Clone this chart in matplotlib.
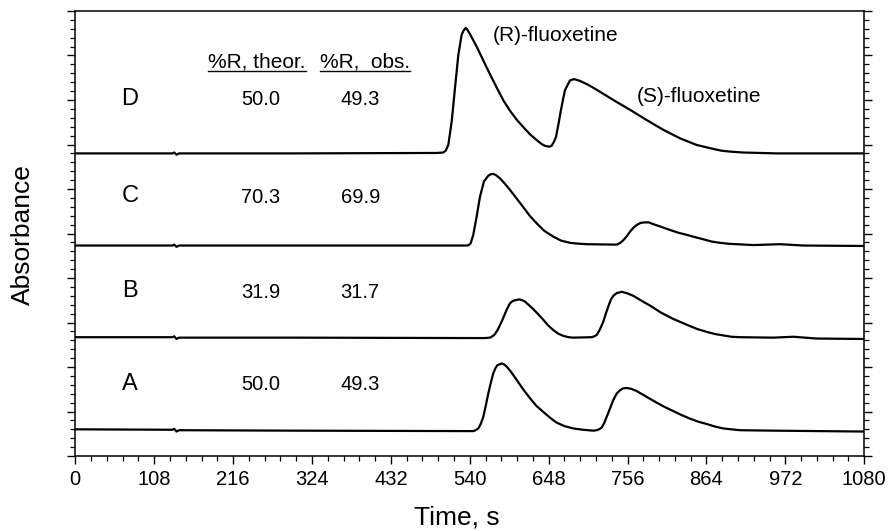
import matplotlib
matplotlib.use("Agg")
import matplotlib.pyplot as plt
from matplotlib.lines import Line2D
from matplotlib.ticker import MultipleLocator, NullFormatter

plt.rcParams["font.family"] = ["Liberation Sans", "DejaVu Sans"]

# ── Data ────────────────────────────────────────────────────────────────
time_a = [0, 133, 135.5, 138.5, 142, 300, 540, 544.8, 548, 551.7, 555,
          558.5, 562, 565.4, 569, 572.2, 575, 577.7, 583.6, 587, 590.5, 597,
          604.2, 613, 622.4, 631, 640.7, 650, 658.9, 670, 681.7, 695, 709.1,
          713.7, 717, 720.5, 724, 727.4, 732, 736.5, 741, 745.6, 750, 754.7,
          761, 768.4, 782, 795.8, 807, 818.6, 830, 841.4, 853, 864.3, 876,
          887.1, 898, 909.9, 955.5, 1080]
abs_a = [0.60, 0.59, 0.61, 0.55, 0.58, 0.57, 0.56, 0.56, 0.58, 0.62, 0.72,
         0.88, 1.14, 1.41, 1.66, 1.86, 1.97, 2.04, 2.08, 2.06, 2.01, 1.88,
         1.71, 1.50, 1.30, 1.13, 0.99, 0.86, 0.75, 0.67, 0.62, 0.59, 0.57,
         0.58, 0.60, 0.64, 0.74, 0.88, 1.07, 1.26, 1.40, 1.48, 1.52, 1.53,
         1.51, 1.46, 1.33, 1.20, 1.10, 1.01, 0.92, 0.84, 0.77, 0.72, 0.66,
         0.62, 0.60, 0.58, 0.57, 0.55]

time_b = [0, 133, 135.5, 138.5, 142, 300, 560, 567.6, 571, 574.5, 578,
          581.3, 585, 588.2, 591.5, 595, 598.5, 601.9, 607.8, 612, 615.6,
          621, 627, 634, 640.7, 647, 654.3, 661, 668, 675, 681.7, 706.8,
          710.5, 713.7, 718, 722.8, 726, 729.6, 733, 736.5, 741, 747.9, 755,
          763.9, 775, 786.7, 802, 818.6, 830, 841.4, 852, 864.3, 876, 887.1,
          898, 909.9, 955.5, 982.9, 1014.8, 1080]
abs_b = [2.67, 2.67, 2.69, 2.63, 2.66, 2.66, 2.65, 2.66, 2.69, 2.74, 2.83,
         2.94, 3.07, 3.20, 3.32, 3.43, 3.48, 3.50, 3.52, 3.50, 3.47,
         3.39, 3.30, 3.18, 3.06, 2.94, 2.83, 2.75, 2.70, 2.67, 2.66, 2.67,
         2.69, 2.72, 2.84, 3.02, 3.19, 3.36, 3.51, 3.60, 3.66, 3.69, 3.66,
         3.60, 3.49, 3.38, 3.22, 3.08, 3.00, 2.92, 2.85, 2.79, 2.74, 2.71,
         2.68, 2.67, 2.66, 2.68, 2.64, 2.63]

time_c = [0, 133, 135.5, 138.5, 142, 300, 535.7, 538.5, 541.2, 544.8, 549.4,
          554.0, 559.4, 565.4, 568.5, 572.2, 576, 581.3, 588, 595, 604, 613.3,
          622, 631.5, 642, 654.3, 665, 677.2, 690, 700, 741, 746, 750.2, 755,
          759.3, 764, 768.4, 774, 779.8, 785, 791.2, 802, 814, 825, 836.9,
          848, 859.7, 871, 882.5, 894, 905.3, 928, 964.6, 996.6, 1080]
abs_c = [4.73, 4.73, 4.75, 4.70, 4.73, 4.73, 4.73, 4.74, 4.78, 4.97, 5.38,
         5.83, 6.17, 6.30, 6.33, 6.34, 6.31, 6.24, 6.12, 5.98, 5.79, 5.59,
         5.40, 5.23, 5.06, 4.93, 4.84, 4.79, 4.77, 4.76, 4.75, 4.79, 4.85, 4.94,
         5.04, 5.13, 5.19, 5.24, 5.25, 5.25, 5.21, 5.15, 5.08, 5.02, 4.97,
         4.92, 4.87, 4.82, 4.79, 4.77, 4.76, 4.74, 4.76, 4.73, 4.72]

time_d = [0, 133, 135.5, 138.5, 142, 300, 495, 503.8, 507, 510.6, 515.2,
          519.7, 524.3, 528.8, 531.1, 534.3, 537.1, 540.3, 549.4, 563.1,
          576.8, 586, 595.0, 604.1, 613.3, 622.4, 631.5, 638.4, 642.9, 648.9,
          652, 655.2, 658, 661.2, 664.4, 668.0, 670.3, 674.9, 677.2, 682.6,
          690.8, 702.2, 713.7, 736.5, 759.3, 782.1, 804.9, 827.7, 850.5,
          873.4, 884.8, 896.2, 914.4, 960, 1080]
abs_d = [6.80, 6.80, 6.82, 6.77, 6.80, 6.80, 6.81, 6.82, 6.86, 6.99, 7.51,
         8.26, 9.01, 9.46, 9.55, 9.62, 9.57, 9.48, 9.20, 8.73,
         8.28, 7.99, 7.76, 7.56, 7.39, 7.23, 7.10, 7.01, 6.97, 6.95,
         6.97, 7.06, 7.17, 7.44, 7.74, 8.04, 8.22, 8.37, 8.44, 8.47,
         8.43, 8.34, 8.23, 8.00, 7.78, 7.55, 7.33, 7.14, 6.99,
         6.90, 6.86, 6.84, 6.82, 6.80, 6.80]

run_labels = ["A", "B", "C", "D"]
pct_theor = ["50.0", "31.9", "70.3", "50.0"]
pct_obs = ["49.3", "31.7", "69.9", "49.3"]
x_ticks = [0, 108, 216, 324, 432, 540, 648, 756, 864, 972, 1080]

# ── Layout ──────────────────────────────────────────────────────────────
ROW_Y = [1.62, 3.70, 5.84, 8.02]     # text rows for A..D
LETTER_X = 75
THEOR_X = 254
OBS_X = 390

fig = plt.figure(figsize=(8.91, 5.31), dpi=100)
ax = fig.add_axes([0.0845, 0.1412, 0.8855, 0.8381])

for t, a in [(time_a, abs_a), (time_b, abs_b), (time_c, abs_c), (time_d, abs_d)]:
    ax.plot(t, a, color="black", lw=1.6, solid_joinstyle="round")

ax.set_xlim(0, 1080)
ax.set_ylim(0, 10)
ax.set_xticks(x_ticks)
ax.set_xticklabels([str(v) for v in x_ticks])
ax.xaxis.set_minor_locator(MultipleLocator(21.6))
ax.yaxis.set_major_locator(MultipleLocator(1))
ax.yaxis.set_minor_locator(MultipleLocator(0.2))
ax.yaxis.set_major_formatter(NullFormatter())
ax.tick_params(axis="x", which="both", direction="out", top=False,
               labelsize=14.5, pad=4.5)
ax.tick_params(axis="y", which="both", direction="out", left=True, right=True)
ax.tick_params(which="major", length=5.5, width=1.0)
ax.tick_params(which="minor", length=3.5, width=0.9)
for s in ax.spines.values():
    s.set_linewidth(1.1)

# run labels and %R table
for lab, th, ob, y in zip(run_labels, pct_theor, pct_obs, ROW_Y):
    ax.text(LETTER_X, y, lab, ha="center", va="center", fontsize=17)
    ax.text(THEOR_X, y - 0.02, th, ha="center", va="center", fontsize=14.5)
    ax.text(OBS_X, y - 0.02, ob, ha="center", va="center", fontsize=14.5)

h1 = ax.text(249, 8.85, "%R, theor.", ha="center", va="center", fontsize=15)
h2 = ax.text(397, 8.85, "%R,  obs.", ha="center", va="center", fontsize=15)

ax.text(571, 9.44, "(R)-fluoxetine", ha="left", va="center", fontsize=15)
ax.text(768, 8.07, "(S)-fluoxetine", ha="left", va="center", fontsize=15)

fig.text(23 / 891, 1 - 235 / 531, "Absorbance", rotation=90,
         ha="center", va="center", fontsize=19)
fig.text(457 / 891, 14 / 531, "Time, s", ha="center", va="center", fontsize=19)

# underline the table headers
fig.canvas.draw()
renderer = fig.canvas.get_renderer()
for h in (h1, h2):
    bb = h.get_window_extent(renderer)
    y = bb.y0 + 1
    fig.add_artist(Line2D([bb.x0 / 891, bb.x1 / 891], [y / 531, y / 531],
                          transform=fig.transFigure, color="black", lw=1.0))

fig.savefig("out.png", dpi=100)
